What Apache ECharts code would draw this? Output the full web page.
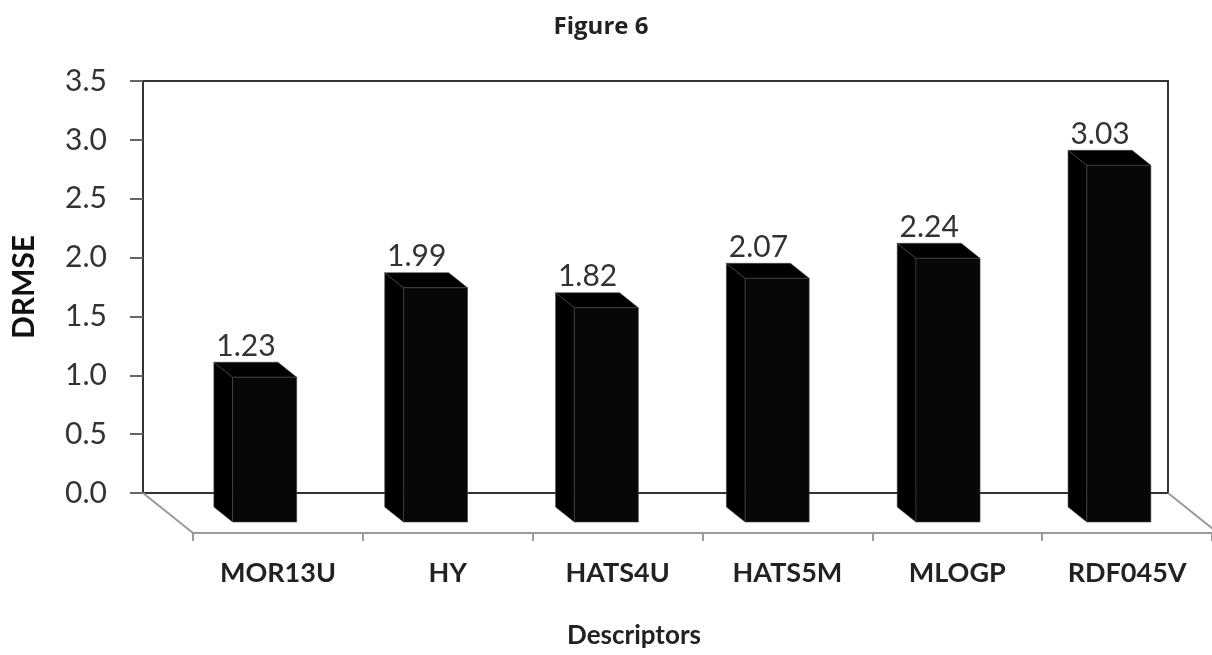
<!DOCTYPE html>
<html>
<head>
<meta charset="utf-8">
<title>Figure 6</title>
<script src="https://cdn.jsdelivr.net/npm/echarts@6/dist/echarts.min.js"></script>
<style>
  html, body { margin: 0; padding: 0; background: #fff; }
  #chart { width: 1212px; height: 655px; }
</style>
</head>
<body>
<div id="chart"></div>
<script>
// Descriptor categories and their DRMSE values
const descriptors = ['MOR13U', 'HY', 'HATS4U', 'HATS5M', 'MLOGP', 'RDF045V'];
const drmse = [1.23, 1.99, 1.82, 2.07, 2.24, 3.03];
const yTicks = [0, 0.5, 1.0, 1.5, 2.0, 2.5, 3.0, 3.5];

// Pseudo-3D geometry: floor depth offset (back wall -> front edge) in px
const FLOOR_DX = 50, FLOOR_DY = 40;
const BACK_FRAC = 0.35, FRONT_FRAC = 0.725;
const BAR_WIDTH_FRAC = 0.375;

const chart = echarts.init(document.getElementById('chart'));

function renderBar(params, api) {
  const i = api.value(0);
  const v = api.value(1);
  const base = api.coord([i, 0]);
  const top = api.coord([i, v]);
  const band = api.size([1, 0])[0];
  const hw = band * BAR_WIDTH_FRAC / 2;
  const bx = FLOOR_DX * BACK_FRAC, by = FLOOR_DY * BACK_FRAC;
  const fx = FLOOR_DX * FRONT_FRAC, fy = FLOOR_DY * FRONT_FRAC;
  const l = base[0] - hw, r = base[0] + hw;
  const btl = [l + bx, top[1] + by], btr = [r + bx, top[1] + by];
  const bbl = [l + bx, base[1] + by];
  const ftl = [l + fx, top[1] + fy], ftr = [r + fx, top[1] + fy];
  const fbl = [l + fx, base[1] + fy], fbr = [r + fx, base[1] + fy];
  const edge = { stroke: 'rgba(70,70,70,0.6)', lineWidth: 1 };
  return {
    type: 'group',
    children: [
      { type: 'polygon', shape: { points: [btl, ftl, fbl, bbl] }, style: Object.assign({ fill: '#000' }, edge) },
      { type: 'polygon', shape: { points: [btl, btr, ftr, ftl] }, style: Object.assign({ fill: '#000' }, edge) },
      { type: 'polygon', shape: { points: [ftl, ftr, fbr, fbl] }, style: Object.assign({ fill: '#070707' }, edge) },
      {
        type: 'text',
        x: (btl[0] + btr[0]) / 2,
        y: btl[1] - 1,
        style: {
          text: v.toFixed(2),
          fill: '#333',
          font: '30px Lato',
          align: 'center',
          verticalAlign: 'bottom'
        }
      }
    ]
  };
}

function renderFloor(params, api) {
  const cs = params.coordSys;
  const x0 = cs.x, x1 = cs.x + cs.width, yb = cs.y + cs.height;
  const lineStyle = { stroke: '#9a9a9a', lineWidth: 2 };
  return {
    type: 'group',
    children: [
      { type: 'line', shape: { x1: x0, y1: yb, x2: x0 + FLOOR_DX, y2: yb + FLOOR_DY }, style: lineStyle },
      { type: 'line', shape: { x1: x1, y1: yb, x2: x1 + FLOOR_DX, y2: yb + FLOOR_DY }, style: lineStyle }
    ]
  };
}

const option = {
  backgroundColor: '#fff',
  animation: false,
  grid: [
    // back wall
    { left: 143, top: 81, width: 1025, height: 412, show: true, borderColor: '#333', borderWidth: 2, backgroundColor: 'transparent' },
    // front floor edge
    { left: 143 + FLOOR_DX, top: 81 + FLOOR_DY, width: 1025, height: 412 }
  ],
  xAxis: [
    { type: 'category', gridIndex: 0, data: descriptors, show: false },
    {
      type: 'category', gridIndex: 1, data: descriptors, boundaryGap: true,
      axisLine: { lineStyle: { color: '#9a9a9a', width: 2 } },
      axisTick: { show: true, length: 8, lineStyle: { color: '#9a9a9a', width: 2 } },
      axisLabel: { margin: 27, fontFamily: 'Lato', fontWeight: 'bold', fontSize: 27, color: '#222' }
    }
  ],
  yAxis: [
    {
      type: 'value', gridIndex: 0, min: 0, max: 3.5, interval: 0.5,
      name: 'DRMSE', nameLocation: 'middle', nameRotate: 90, nameGap: 104,
      nameTextStyle: { fontFamily: 'Lato', fontWeight: 'bold', fontSize: 30, color: '#111' },
      axisLine: { show: true, lineStyle: { color: '#333', width: 2 } },
      axisTick: { show: true, length: 13, lineStyle: { color: '#666', width: 2 } },
      axisLabel: {
        margin: 36, fontFamily: 'Lato', fontSize: 30, color: '#333',
        formatter: (val) => (yTicks.includes(val) ? val.toFixed(1) : '')
      },
      splitLine: { show: false }
    },
    { type: 'value', gridIndex: 1, min: 0, max: 3.5, interval: 0.5, show: false, splitLine: { show: false } }
  ],
  graphic: [
    {
      type: 'text', x: 601, y: 27,
      style: { text: 'Figure 6', font: 'bold 24px "Open Sans"', fill: '#222', align: 'center', verticalAlign: 'middle' }
    },
    {
      type: 'text', x: 634, y: 636,
      style: { text: 'Descriptors', font: 'bold 26px Lato', fill: '#222', align: 'center', verticalAlign: 'middle' }
    }
  ],
  series: [
    {
      type: 'custom', xAxisIndex: 0, yAxisIndex: 0, z: 1,
      renderItem: renderFloor, data: [[0, 0]], silent: true
    },
    {
      type: 'custom', xAxisIndex: 0, yAxisIndex: 0, z: 2,
      renderItem: renderBar,
      data: descriptors.map((d, i) => [i, drmse[i]])
    }
  ]
};

chart.setOption(option);
</script>
</body>
</html>
